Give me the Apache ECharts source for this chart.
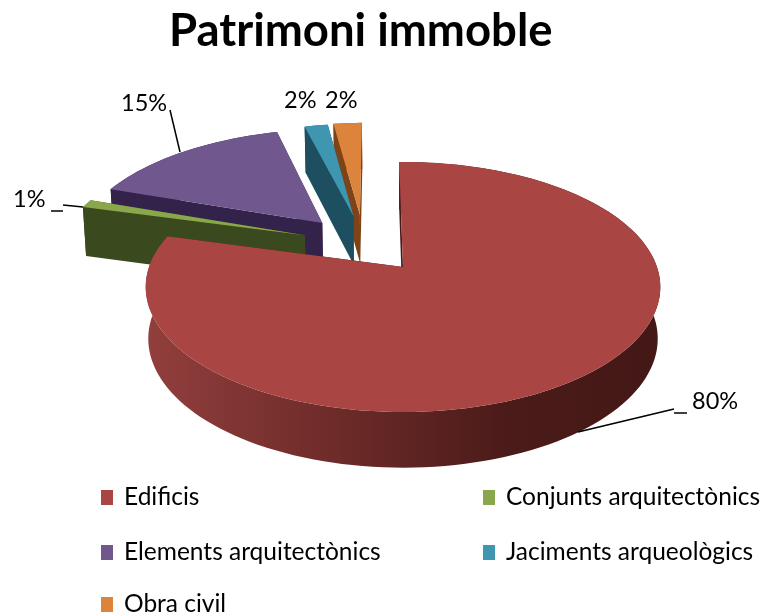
<!DOCTYPE html>
<html>
<head>
<meta charset="utf-8">
<style>html,body{margin:0;padding:0;background:#fff}#main{width:763px;height:616px}</style>
<script src="https://cdn.jsdelivr.net/npm/echarts@6/dist/echarts.min.js"></script>
</head>
<body>
<div id="main"></div>
<script>
var categories = ['Edificis', 'Conjunts arquitectònics', 'Elements arquitectònics', 'Jaciments arqueològics', 'Obra civil'];
var values = [79.5, 1.1, 15.4, 1.8, 2.2];
var colors = ['#a94543', '#8aa84b', '#70588f', '#3f96b0', '#dc843c'];
var wallColors = [null, '#3b4a1e', '#33224a', '#1d4f60', '#7e4418'];

// how far each slice is pulled out of the pie: [distance, direction in degrees]
var explode = [[0, 0], [0.486, 304], [0.51, 318.6], [0.495, 335], [0.495, 338.4]];
// label anchor and leader line for each slice
var labelPos = [[692, 401], [13, 199], [121, 103], [284, 100], [325, 100]];
var leaders = [
    [[578, 432], [674, 409]],
    [[83, 207], [63, 205]],
    [[180, 152], [170, 110]],
    null,
    null
];
var ticks = [[[674, 413], [687, 413]], [[51, 211], [63, 211]], null, null, null];
// back to front: obra civil, jaciments, elements, conjunts, edificis
var drawOrder = [5, 4, 3, 2, 1];

// fake 3d view
var cx = 403, cy = 267, rx = 254, ry = 121.8, persp = 0.16, depth = 51, startAngle = -1;

function project(u, v, z) {
    var s = 1 / (1 - persp * v);
    var x = rx * u * s, y = ry * v * s;
    if (z) {
        x = x * 0.99;
        y = y + depth * Math.sqrt(s);
    }
    return [cx + x, cy + y];
}

function rimPoints(off, a0, a1, z) {
    var pts = [];
    var n = Math.max(2, Math.ceil((a1 - a0) / 2));
    for (var i = 0; i <= n; i++) {
        var a = (a0 + (a1 - a0) * i / n) * Math.PI / 180;
        pts.push(project(off[0] + Math.sin(a), off[1] - Math.cos(a), z));
    }
    return pts;
}

function makeRender(idx) {
    return function (params, api) {
        var total = 0, before = 0;
        for (var i = 0; i < values.length; i++) {
            total += values[i];
            if (i < idx) before += values[i];
        }
        var a0 = startAngle + before / total * 360;
        var a1 = a0 + api.value(0) / total * 360;
        var dir = explode[idx][1] * Math.PI / 180;
        var off = [explode[idx][0] * Math.sin(dir), -explode[idx][0] * Math.cos(dir)];
        var apex = project(off[0], off[1], false);
        var apexLow = project(off[0], off[1], true);
        var top = rimPoints(off, a0, a1, false);
        var low = rimPoints(off, a0, a1, true);

        var wallFill = wallColors[idx];
        if (!wallFill) {
            wallFill = new echarts.graphic.LinearGradient(0, 0, 1, 0, [
                { offset: 0, color: '#923f3d' },
                { offset: 0.35, color: '#6f2c2a' },
                { offset: 0.7, color: '#4b1b19' },
                { offset: 1, color: '#431816' }
            ]);
        }
        var dark = wallColors[idx] || '#431816';
        var children = [
            { type: 'polygon', shape: { points: top.concat(low.slice().reverse()) }, style: { fill: wallFill } },
            { type: 'polygon', shape: { points: [apex, top[top.length - 1], low[low.length - 1], apexLow] }, style: { fill: dark } },
            { type: 'polygon', shape: { points: [apex, top[0], low[0], apexLow] }, style: { fill: dark } },
            { type: 'polygon', shape: { points: [apex].concat(top) }, style: { fill: colors[idx] } }
        ];
        if (leaders[idx]) {
            children.push({ type: 'polyline', shape: { points: leaders[idx] }, style: { stroke: '#000', lineWidth: 1.5, fill: null } });
        }
        if (ticks[idx]) {
            children.push({ type: 'polyline', shape: { points: ticks[idx] }, style: { stroke: '#000', lineWidth: 1.5, fill: null } });
        }
        children.push({
            type: 'text',
            style: {
                text: Math.round(api.value(0)) + '%',
                x: labelPos[idx][0],
                y: labelPos[idx][1],
                verticalAlign: 'middle',
                font: '23.5px Lato',
                fill: '#000'
            }
        });
        return { type: 'group', children: children };
    };
}

var myChart = echarts.init(document.getElementById('main'));

var series = [];
for (var i = 0; i < categories.length; i++) {
    series.push({
        name: categories[i],
        type: 'custom',
        coordinateSystem: 'none',
        z: drawOrder[i],
        itemStyle: { color: colors[i] },
        renderItem: makeRender(i),
        data: [[values[i]]]
    });
}

var legendText = { fontFamily: 'Lato', fontSize: 24.5, color: '#000', padding: [0, 0, 0, 6] };

function makeLegend(left, top, names) {
    return {
        left: left, top: top, orient: 'vertical', icon: 'rect', itemWidth: 12, itemHeight: 15,
        itemGap: 30, padding: 0, selectedMode: false,
        data: names,
        textStyle: legendText
    };
}

var option = {
    animation: false,
    title: {
        text: 'Patrimoni immoble',
        left: 164,
        top: 3,
        textStyle: { fontFamily: 'Lato', fontWeight: 'bold', fontSize: 45.5, color: '#000' }
    },
    legend: [
        makeLegend(101, 485, [categories[0], categories[2]]),
        makeLegend(483, 485, [categories[1], categories[3]]),
        makeLegend(101, 592, [categories[4]])
    ],
    series: series
};

myChart.setOption(option, true);
</script>
</body>
</html>
